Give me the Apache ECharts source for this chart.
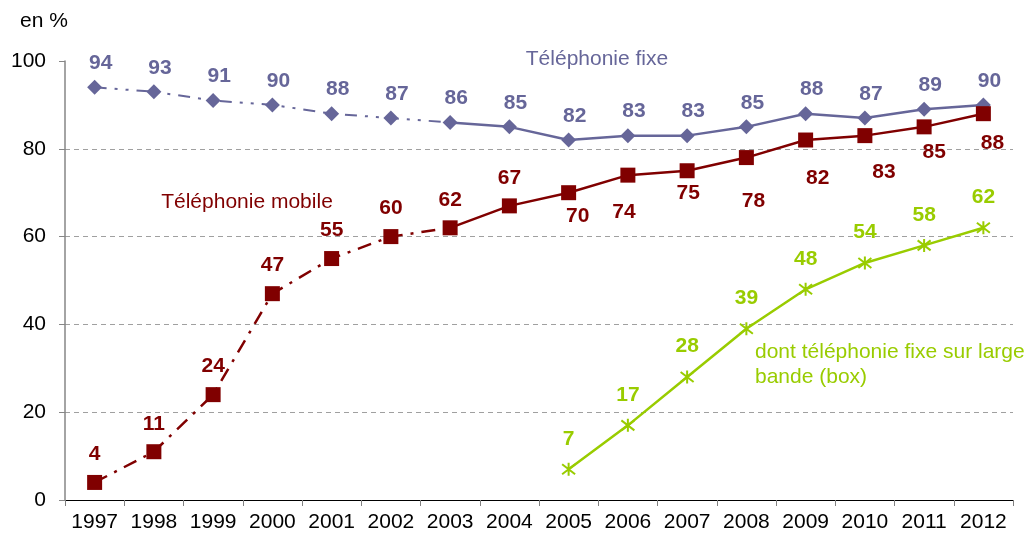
<!DOCTYPE html>
<html>
<head>
<meta charset="utf-8">
<script src="https://cdn.jsdelivr.net/npm/echarts@6/dist/echarts.min.js"></script>
<style>
html,body{margin:0;padding:0;background:#fff;}
#chart{width:1035px;height:534px;}
</style>
</head>
<body>
<div id="chart"></div>
<script>
// ---- data ----
var years = ['1997','1998','1999','2000','2001','2002','2003','2004','2005','2006','2007','2008','2009','2010','2011','2012'];
var fixe = [94,93,91,90,88,87,86,85,82,83,83,85,88,87,89,90];
var mobile = [4,11,24,47,55,60,62,67,70,74,75,78,82,83,85,88];
var box = [null,null,null,null,null,null,null,null,7,17,28,39,48,54,58,62];
var yTicks = [0,20,40,60,80,100];

// ---- label styling (not data) ----
var mobileBelowFrom = 8;
var mobileBelowDist = [0,0,0,0,0,0,0,0,6,19,4,26,20,19,7,12];
var mobileBelowDx   = [0,0,0,0,0,0,0,0,9,-4,1,7,12,19,10,9];
var dashEnd = 6; // last index of dash-dot part

var FONT = '"Liberation Sans", Arial, sans-serif';
var FS = 21;
var C_FIXE = '#666699', C_MOB = '#800000', C_BOX = '#99CC00';

function part(arr, from, to){ return arr.map(function(v,i){ return (i>=from && i<=to) ? v : null; }); }

var mobileData = mobile.map(function(v,i){
  if (i >= mobileBelowFrom) {
    return {value:v, label:{position:'bottom', distance:mobileBelowDist[i], offset:[mobileBelowDx[i],0]}};
  }
  return {value:v};
});

var labelBase = {show:true, fontSize:FS, fontWeight:'bold', fontFamily:FONT};

var chart = echarts.init(document.getElementById('chart'), null, {renderer:'canvas'});
chart.setOption({
  animation:false,
  grid:{left:65, right:22, top:61, bottom:34, containLabel:false},
  xAxis:{
    type:'category', data:years, boundaryGap:true,
    axisLine:{lineStyle:{color:'#000', width:1}},
    axisTick:{show:true, length:6, lineStyle:{color:'#808080'}},
    axisLabel:{fontSize:FS, color:'#000', fontFamily:FONT, margin:12, interval:0}
  },
  yAxis:{
    type:'value', min:yTicks[0], max:yTicks[yTicks.length-1], interval:20,
    axisLine:{show:true, lineStyle:{color:'#868686', width:1.5}},
    axisTick:{show:true, length:6, lineStyle:{color:'#868686'}},
    axisLabel:{fontSize:FS, color:'#000', fontFamily:FONT, margin:19},
    splitLine:{show:true, showMinLine:false, showMaxLine:false, lineStyle:{color:'#a0a0a0', type:[5,4], width:1}}
  },
  graphic:[
    {type:'text', left:20, top:11, style:{text:'en %', font:FS+'px '+FONT, fill:'#000'}},
    {type:'text', x:597, y:59, style:{text:'Téléphonie fixe', font:FS+'px '+FONT, fill:C_FIXE, textAlign:'center', textVerticalAlign:'middle'}},
    {type:'text', x:247, y:202, style:{text:'Téléphonie mobile', font:FS+'px '+FONT, fill:C_MOB, textAlign:'center', textVerticalAlign:'middle'}},
    {type:'text', x:755, y:352, style:{text:'dont téléphonie fixe sur large', font:FS+'px '+FONT, fill:C_BOX, textAlign:'left', textVerticalAlign:'middle'}},
    {type:'text', x:755, y:377, style:{text:'bande (box)', font:FS+'px '+FONT, fill:C_BOX, textAlign:'left', textVerticalAlign:'middle'}}
  ],
  series:[
    {type:'line', data:part(fixe,0,dashEnd), symbol:'none', connectNulls:false,
     lineStyle:{color:C_FIXE, width:2, type:[12,8,3,8,3,8]}, z:2, silent:true},
    {type:'line', data:part(fixe,dashEnd,fixe.length-1), symbol:'none',
     lineStyle:{color:C_FIXE, width:2.5}, z:2, silent:true},
    {type:'line', data:fixe, symbol:'diamond', symbolSize:[15,15], showAllSymbol:true,
     itemStyle:{color:C_FIXE}, lineStyle:{width:0, opacity:0}, z:3,
     label:Object.assign({}, labelBase, {color:C_FIXE, position:'top', distance:6, offset:[6,0]})},
    {type:'line', data:part(mobile,0,dashEnd), symbol:'none',
     lineStyle:{color:C_MOB, width:2.5, type:[14,8,3,8]}, z:4, silent:true},
    {type:'line', data:part(mobile,dashEnd,mobile.length-1), symbol:'none',
     lineStyle:{color:C_MOB, width:2.5}, z:4, silent:true},
    {type:'line', data:mobileData, symbol:'rect', symbolSize:15, showAllSymbol:true,
     itemStyle:{color:C_MOB}, lineStyle:{width:0, opacity:0}, z:5,
     label:Object.assign({}, labelBase, {color:C_MOB, position:'top', distance:10})},
    {type:'line', data:box, symbol:'path://M0,0L10,10M10,0L0,10M5,-1.5L5,11.5', symbolSize:13, showAllSymbol:true,
     itemStyle:{color:'none', borderColor:C_BOX, borderWidth:2},
     lineStyle:{color:C_BOX, width:2.5}, z:6,
     label:Object.assign({}, labelBase, {color:C_BOX, position:'top', distance:11})}
  ]
});
</script>
</body>
</html>
